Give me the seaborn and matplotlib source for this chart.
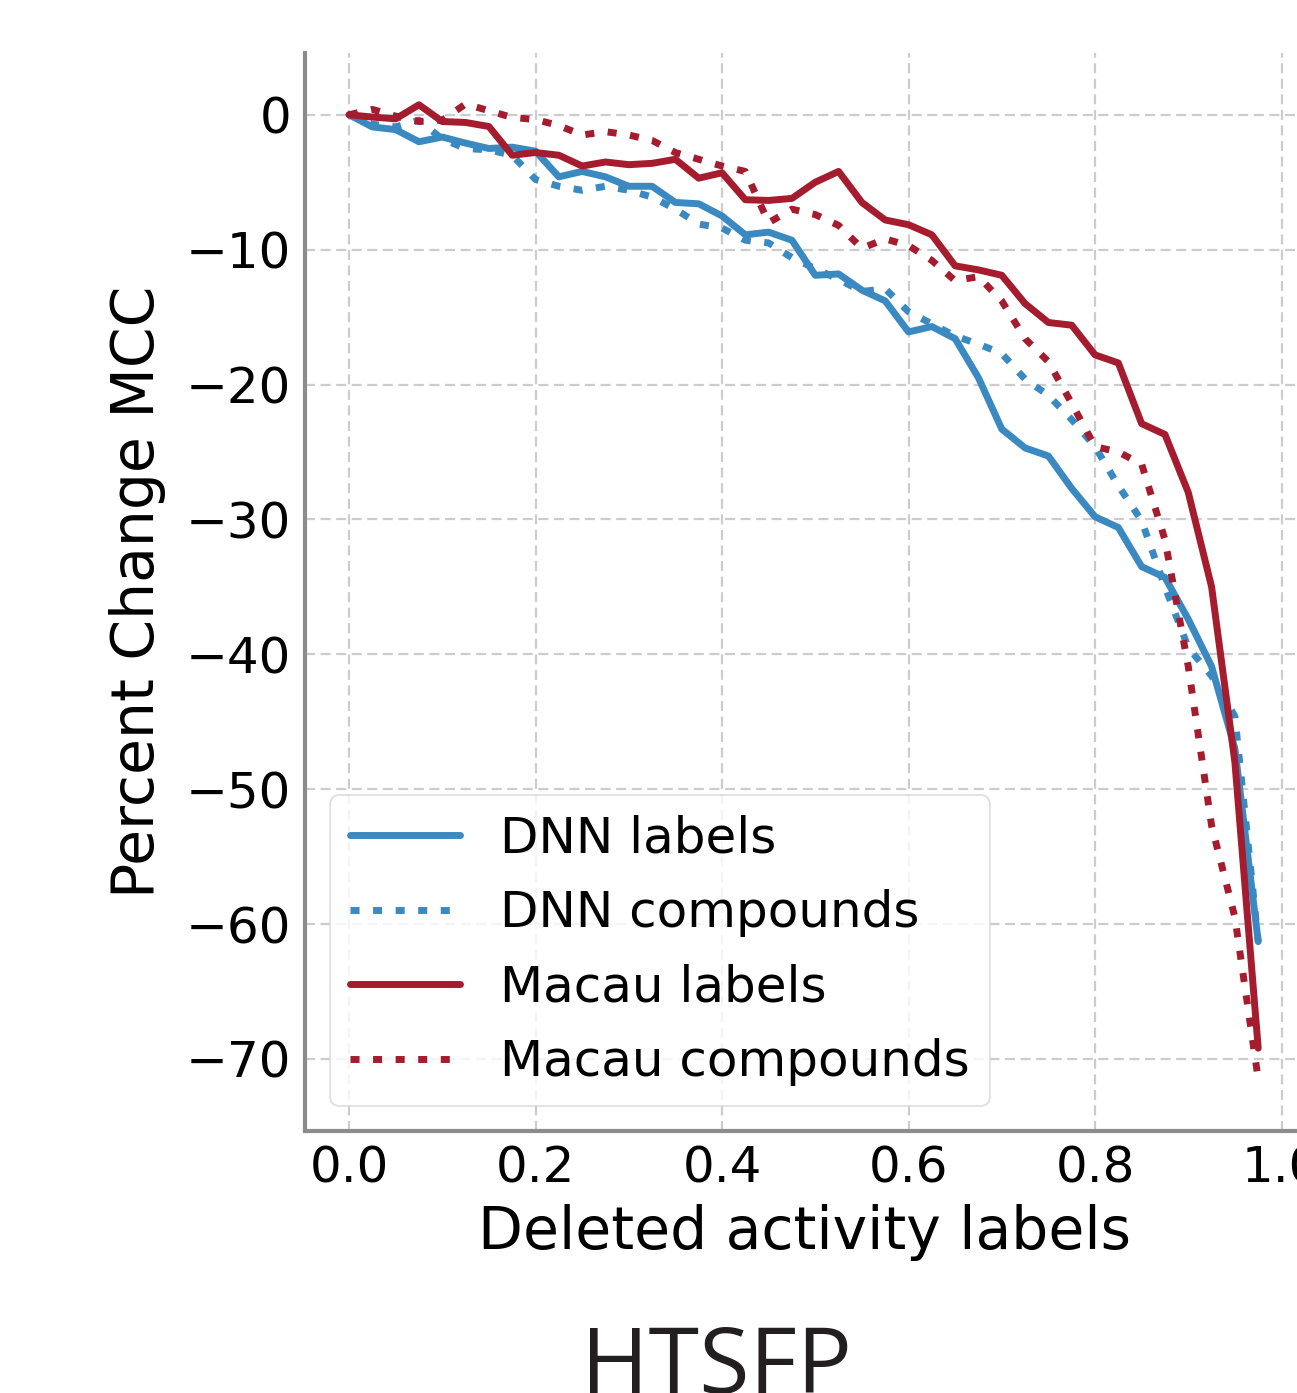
import numpy as np
import pandas as pd
import matplotlib
matplotlib.use("Agg")
import matplotlib.pyplot as plt
import seaborn as sns

# ---- data ----
deleted_fraction = [0.0, 0.025, 0.05, 0.075, 0.1, 0.125, 0.15, 0.175, 0.2, 0.225,
                    0.25, 0.275, 0.3, 0.325, 0.35, 0.375, 0.4, 0.425, 0.45, 0.475,
                    0.5, 0.525, 0.55, 0.575, 0.6, 0.625, 0.65, 0.675, 0.7, 0.725,
                    0.75, 0.775, 0.8, 0.825, 0.85, 0.875, 0.9, 0.925, 0.95, 0.975]

dnn_labels = [0.0, -0.9, -1.1, -2.0, -1.65, -2.1, -2.5, -2.4, -2.7, -4.6,
              -4.2, -4.6, -5.3, -5.3, -6.5, -6.6, -7.5, -8.9, -8.7, -9.3,
              -11.9, -11.8, -13.0, -13.8, -16.1, -15.7, -16.6, -19.5, -23.3, -24.7,
              -25.3, -27.7, -29.8, -30.6, -33.5, -34.3, -37.4, -40.9, -47.0, -61.3]

dnn_compounds = [0.0, -0.7, -0.9, -0.4, -1.8, -2.5, -2.6, -3.0, -4.8, -5.3,
                 -5.6, -5.3, -5.6, -6.1, -7.0, -8.1, -8.4, -9.3, -9.5, -10.6,
                 -11.4, -12.2, -13.1, -12.9, -14.6, -15.5, -16.4, -17.0, -17.7, -19.6,
                 -20.8, -22.6, -24.6, -27.5, -30.1, -35.0, -39.5, -41.6, -44.6, -61.3]

macau_labels = [0.0, -0.17, -0.3, 0.74, -0.5, -0.57, -0.87, -3.0, -2.8, -3.0,
                -3.8, -3.5, -3.7, -3.6, -3.3, -4.7, -4.3, -6.3, -6.35, -6.2,
                -5.0, -4.2, -6.5, -7.8, -8.15, -8.9, -11.2, -11.5, -11.9, -14.0,
                -15.4, -15.6, -17.8, -18.4, -22.9, -23.7, -28.0, -35.0, -48.0, -69.2]

macau_compounds = [0.0, 0.4, -0.1, -0.5, -0.4, 0.8, 0.3, -0.2, -0.35, -0.8,
                   -1.5, -1.25, -1.5, -1.9, -2.8, -3.3, -3.8, -4.2, -8.0, -7.0,
                   -7.4, -8.2, -9.9, -9.2, -9.7, -10.8, -12.3, -12.0, -13.8, -16.6,
                   -18.3, -21.4, -24.6, -25.0, -25.9, -31.5, -40.9, -52.7, -59.5, -71.5]

series_names = ["DNN labels", "DNN compounds", "Macau labels", "Macau compounds"]
x_ticks = [0.0, 0.2, 0.4, 0.6, 0.8, 1.0]
y_ticks = [0, -10, -20, -30, -40, -50, -60, -70]

BLUE = "#3a8ac1"
RED = "#a51c2e"
DOTS = (0, (1.3, 1.95))

sns.set_theme(style="whitegrid")
plt.rcParams["font.family"] = ["DejaVu Sans"]

fig = plt.figure(figsize=(12.97, 13.93), dpi=100)
ax = fig.add_axes([305 / 1297, (1393 - 1131) / 1393, (1304 - 305) / 1297, (1131 - 53) / 1393])

series = [
    (dnn_labels, BLUE, "-"),
    (dnn_compounds, BLUE, DOTS),
    (macau_labels, RED, "-"),
    (macau_compounds, RED, DOTS),
]
for (vals, col, ls), name in zip(series, series_names):
    df = pd.DataFrame({"x": deleted_fraction, "y": vals})
    sns.lineplot(data=df, x="x", y="y", ax=ax, color=col, linestyle=ls,
                 linewidth=5, label=name, errorbar=None)

ax.set_xlim(-0.0472, 1.0241)
ax.set_ylim(-75.34, 4.58)
ax.set_xticks(x_ticks)
ax.set_yticks(y_ticks)
ax.set_xticklabels([f"{t:.1f}" for t in x_ticks])
ax.set_yticklabels([f"{t}".replace("-", "\u2212") for t in y_ticks])
ax.tick_params(axis="both", labelsize=36, colors="black", length=0, pad=10)

ax.grid(True, linestyle=(0, (4.5, 2.5)), color="#cccccc", linewidth=1.6)
for s in ["top", "right"]:
    ax.spines[s].set_visible(False)
for s in ["left", "bottom"]:
    ax.spines[s].set_color("#8c8c8c")
    ax.spines[s].set_linewidth(3)

ax.set_xlabel("Deleted activity labels", fontsize=42, color="black", labelpad=8)
ax.set_ylabel("Percent Change MCC", fontsize=42, color="black", labelpad=14)

leg = ax.legend(loc="lower left", fontsize=36, frameon=True, handlelength=2.2,
                labelspacing=0.53, borderaxespad=0.5, labelcolor="black")
leg.get_frame().set_edgecolor("#d5d5d5")
leg.get_frame().set_linewidth(1.2)

fig.text(716 / 1297, 0.0, "HTSFP", fontsize=66, color="#231f20",
         ha="center", va="baseline", family=["Open Sans", "DejaVu Sans"])

fig.savefig("out.png", dpi=100)
